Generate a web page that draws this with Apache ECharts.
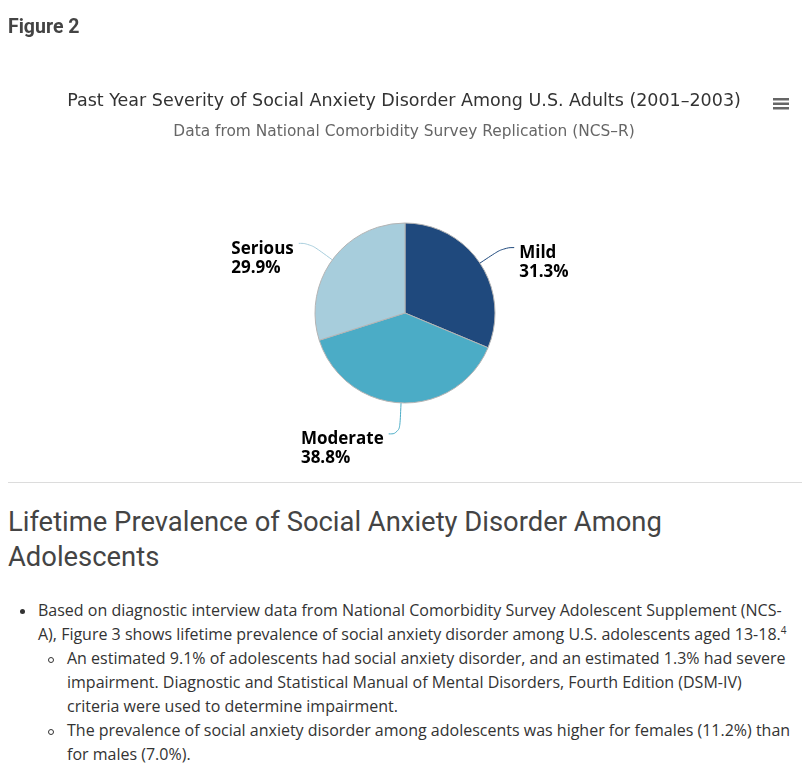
<!DOCTYPE html>
<html>
<head>
<meta charset="utf-8">
<script src="https://cdn.jsdelivr.net/npm/echarts@6/dist/echarts.min.js"></script>
<style>
  html, body { margin: 0; padding: 0; background: #fff; width: 808px; height: 773px; overflow: hidden; }
  #fig { position: absolute; left: 8px; top: 15px; font-family: Roboto, sans-serif; font-weight: 700; font-size: 19.5px; line-height: 24px; color: #444; }
  #chart { position: absolute; left: 0; top: 0; width: 808px; height: 478px; }
  #rule { position: absolute; left: 8px; top: 482px; width: 794px; height: 0; border-top: 1px solid #dcdcdc; }
  #h2 { position: absolute; left: 8px; top: 505px; font-family: Roboto, sans-serif; font-weight: 400; font-size: 27.4px; line-height: 35px; color: #444; white-space: nowrap; }
  .list { position: absolute; left: 0; font-family: "Open Sans", sans-serif; font-size: 16px; line-height: 24px; color: #333; white-space: nowrap; }
  .l1 { left: 38px; top: 598px; }
  .s1 { left: 67px; top: 646px; }
  .s2 { left: 67px; top: 718px; }
  .dot { position: absolute; width: 5px; height: 5px; border-radius: 50%; background: #333; }
  .circ { position: absolute; width: 4px; height: 4px; border-radius: 50%; border: 1px solid #333; }
  sup { font-size: 10px; line-height: 0; vertical-align: 6px; }
</style>
</head>
<body>
<div id="chart"></div>
<div id="fig">Figure 2</div>
<div id="rule"></div>
<div id="h2">Lifetime Prevalence of Social Anxiety Disorder Among<br>Adolescents</div>
<div class="dot" style="left:20px; top:609px;"></div>
<div class="list l1">Based on diagnostic interview data from National Comorbidity Survey Adolescent Supplement (NCS-<br>A), Figure 3 shows lifetime prevalence of social anxiety disorder among U.S. adolescents aged 13-18.<sup>4</sup></div>
<div class="circ" style="left:48px; top:657px;"></div>
<div class="list s1">An estimated 9.1% of adolescents had social anxiety disorder, and an estimated 1.3% had severe<br>impairment. Diagnostic and Statistical Manual of Mental Disorders, Fourth Edition (DSM-IV)<br>criteria were used to determine impairment.</div>
<div class="circ" style="left:48px; top:729px;"></div>
<div class="list s2">The prevalence of social anxiety disorder among adolescents was higher for females (11.2%) than<br>for males (7.0%).</div>
<script>
const titleText = 'Past Year Severity of Social Anxiety Disorder Among U.S. Adults (2001\u20132003)';
const subtitleText = 'Data from National Comorbidity Survey Replication (NCS\u2013R)';
const categories = ['Mild', 'Moderate', 'Serious'];
const values = [31.3, 38.8, 29.9];
const colors = ['#1f497d', '#4bacc6', '#a7cddc'];

const chart = echarts.init(document.getElementById('chart'), null, { renderer: 'canvas' });
chart.setOption({
  animation: false,
  title: {
    text: titleText,
    subtext: subtitleText,
    left: 'center',
    top: 87,
    itemGap: 14,
    textStyle: { fontFamily: 'DejaVu Sans', fontSize: 17.5, fontWeight: 'normal', color: '#333' },
    subtextStyle: { fontFamily: 'DejaVu Sans', fontSize: 15.4, color: '#666' }
  },
  graphic: [
    { type: 'rect', right: 19, top: 98, shape: { width: 16, height: 2.5 }, style: { fill: '#666' } },
    { type: 'rect', right: 19, top: 102.5, shape: { width: 16, height: 2.5 }, style: { fill: '#666' } },
    { type: 'rect', right: 19, top: 107, shape: { width: 16, height: 2.5 }, style: { fill: '#666' } }
  ],
  color: colors,
  series: [{
    type: 'pie',
    center: [405, 313],
    radius: 90,
    startAngle: 90,
    clockwise: true,
    itemStyle: { borderColor: '#b4b4b4', borderWidth: 1 },
    label: {
      show: true,
      formatter: '{n|{b}}\n{n|{c}%}',
      padding: [30, 0, 0, 0],
      distanceToLabelLine: 5,
      rich: {
        n: { align: 'left', fontFamily: 'Open Sans', fontSize: 17, fontWeight: 'bold', color: '#000', lineHeight: 19 }
      }
    },
    labelLine: { show: true, length: 28, length2: 11, smooth: 0.5, lineStyle: { width: 1 } },
    emphasis: { disabled: true },
    data: categories.map((c, i) => ({
      name: c,
      value: values[i],
      labelLine: c === 'Moderate' ? { length: 31 } : undefined
    }))
  }]
});
</script>
</body>
</html>
